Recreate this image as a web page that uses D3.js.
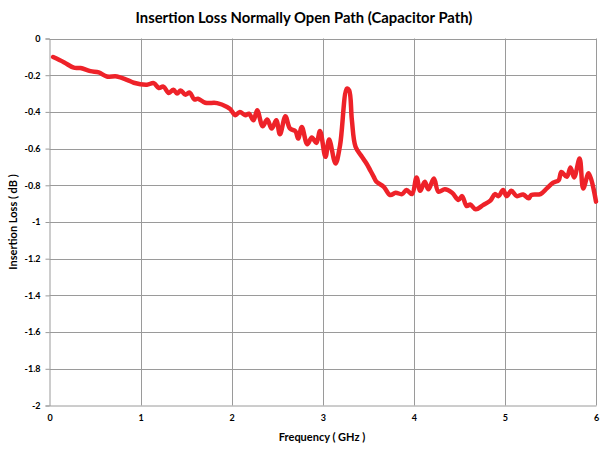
<!DOCTYPE html>
<html>
<head>
<meta charset="utf-8">
<script src="https://cdn.jsdelivr.net/npm/d3@7"></script>
<style>
  html, body { margin: 0; padding: 0; background: #fff; }
  svg { display: block; font-family: Lato, "Open Sans", sans-serif; }
</style>
</head>
<body>
<svg id="chart" width="605" height="449"></svg>
<script>
const chartTitle = "Insertion Loss Normally Open Path (Capacitor Path)";
const xAxisTitle = "Frequency ( GHz )";
const yAxisTitle = "Insertion Loss ( dB )";
const xTicks = [0, 1, 2, 3, 4, 5, 6];
const yTicks = [0, -0.2, -0.4, -0.6, -0.8, -1, -1.2, -1.4, -1.6, -1.8, -2];

const freqGHz = [
  0.04, 0.157, 0.267, 0.34, 0.45, 0.54, 0.63, 0.74, 0.85, 0.925, 1.07, 1.144, 1.2, 1.25, 1.31, 1.36, 1.40, 1.44, 1.49, 1.54, 1.59, 1.63,
  1.71, 1.84, 1.95, 1.985, 2.04, 2.09, 2.15, 2.19, 2.24, 2.28, 2.34, 2.39, 2.44, 2.49, 2.53, 2.59,
  2.64, 2.70, 2.73, 2.77, 2.83, 2.88, 2.93, 2.97, 3.03, 3.07, 3.14, 3.19, 3.265, 3.29, 3.32, 3.36,
  3.43, 3.48, 3.52, 3.56, 3.59, 3.67, 3.74, 3.80, 3.87, 3.92, 3.98, 4.03, 4.07, 4.12, 4.16, 4.22,
  4.27, 4.34, 4.42, 4.49, 4.53, 4.58, 4.62, 4.68, 4.76, 4.84, 4.89, 4.93, 4.98, 5.02, 5.07, 5.13,
  5.20, 5.26, 5.29, 5.39, 5.46, 5.53, 5.59, 5.62, 5.68, 5.72, 5.76, 5.82, 5.86, 5.92, 6.0
];
const lossDB = [
  -0.101, -0.129, -0.159, -0.161, -0.178, -0.185, -0.207, -0.207, -0.225, -0.241, -0.252, -0.243, -0.27, -0.262, -0.297, -0.279, -0.30, -0.283, -0.306, -0.295, -0.332, -0.328,
  -0.35, -0.352, -0.373, -0.385, -0.418, -0.40, -0.418, -0.41, -0.446, -0.391, -0.478, -0.442, -0.491, -0.446, -0.522, -0.424,
  -0.491, -0.505, -0.545, -0.482, -0.576, -0.54, -0.569, -0.504, -0.645, -0.551, -0.681, -0.582, -0.273, -0.283, -0.446, -0.59,
  -0.645, -0.681, -0.717, -0.754, -0.781, -0.808, -0.853, -0.841, -0.848, -0.826, -0.848, -0.757, -0.83, -0.781, -0.822, -0.763,
  -0.835, -0.822, -0.841, -0.88, -0.859, -0.913, -0.905, -0.931, -0.908, -0.884, -0.848, -0.859, -0.826, -0.859, -0.83, -0.859,
  -0.85, -0.871, -0.853, -0.848, -0.817, -0.786, -0.772, -0.727, -0.754, -0.703, -0.757, -0.654, -0.817, -0.735, -0.889
];

const data = freqGHz.map((f, i) => ({ f, v: lossDB[i] }));

const svg = d3.select("#chart");
const plotLeft = 49.5, plotRight = 596, plotTop = 38.5, plotBottom = 405.5;

const x = d3.scaleLinear().domain([0, 6]).range([plotLeft, plotRight]);
const y = d3.scaleLinear().domain([-2, 0]).range([plotBottom, plotTop]);

// vertical gridlines
svg.append("g").selectAll("line").data(xTicks.filter(d => d !== 0)).join("line")
  .attr("x1", d => Math.round(x(d)) + 0.5).attr("x2", d => Math.round(x(d)) + 0.5)
  .attr("y1", plotTop).attr("y2", plotBottom)
  .attr("stroke", "#9a9a9a").attr("stroke-width", 1);

// horizontal gridlines
svg.append("g").selectAll("line").data(yTicks.filter(d => d !== -2)).join("line")
  .attr("x1", plotLeft).attr("x2", plotRight)
  .attr("y1", d => Math.round(y(d)) + 0.5).attr("y2", d => Math.round(y(d)) + 0.5)
  .attr("stroke", "#9a9a9a").attr("stroke-width", 1);

// y axis
const yAxis = d3.axisLeft(y).tickValues(yTicks).tickSize(4).tickFormat(d => String(+d.toFixed(1)));
const gy = svg.append("g").attr("transform", `translate(${plotLeft},0)`).call(yAxis);
gy.select(".domain").attr("stroke", "#9a9a9a");
gy.selectAll(".tick line").attr("stroke", "#9a9a9a");
gy.selectAll(".tick text").attr("x", -9).attr("font-size", 9).attr("font-weight", "bold").attr("fill", "#000")
  .attr("font-family", "Lato, 'Open Sans', sans-serif");

// x axis
const xAxis = d3.axisBottom(x).tickValues(xTicks).tickSize(0).tickFormat(d3.format("d"));
const gx = svg.append("g").attr("transform", `translate(0,${plotBottom})`).call(xAxis);
gx.select(".domain").attr("stroke", "#9a9a9a");
gx.selectAll(".tick text").attr("y", 9).attr("font-size", 9).attr("font-weight", "bold").attr("fill", "#000")
  .attr("font-family", "Lato, 'Open Sans', sans-serif");

// data line
const line = d3.line().x(d => x(d.f)).y(d => y(d.v)).curve(d3.curveCatmullRom.alpha(0.5));
svg.append("path").datum(data)
  .attr("d", line)
  .attr("fill", "none")
  .attr("stroke", "#ee2229")
  .attr("stroke-width", 4.5)
  .attr("stroke-linejoin", "round")
  .attr("stroke-linecap", "round");

// titles
svg.append("text").attr("x", 304).attr("y", 23).attr("text-anchor", "middle")
  .attr("font-size", 14.8).attr("font-weight", "bold").text(chartTitle);
svg.append("text").attr("x", 322).attr("y", 441).attr("text-anchor", "middle")
  .attr("font-size", 11).attr("font-weight", "bold").text(xAxisTitle);
svg.append("text").attr("transform", "translate(17,222) rotate(-90)").attr("text-anchor", "middle")
  .attr("font-size", 11).attr("font-weight", "bold").text(yAxisTitle);
</script>
</body>
</html>
